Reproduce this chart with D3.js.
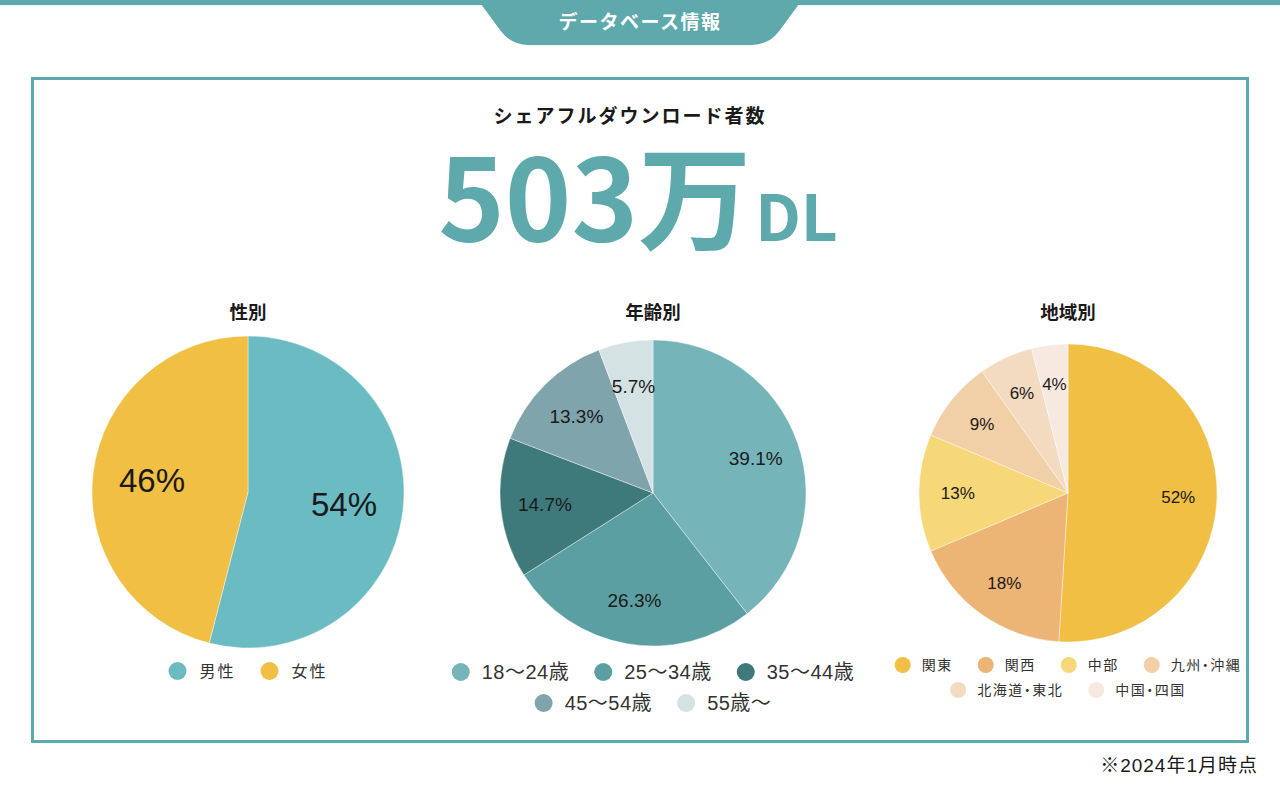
<!DOCTYPE html>
<html lang="ja">
<head>
<meta charset="utf-8">
<title>データベース情報</title>
<script src="https://cdn.jsdelivr.net/npm/d3@7"></script>
<style>
  html, body { margin: 0; padding: 0; background: #fff; }
  svg { display: block; }
  .jp { font-family: "Noto Sans CJK JP", "Noto Sans", sans-serif; }
  .num { font-family: "Liberation Sans", Arial, "Noto Sans CJK JP", sans-serif; }
  .palt { font-feature-settings: "palt"; }
</style>
</head>
<body>
<svg id="chart" width="1280" height="786"></svg>
<script>
// data
const genderLabels = ["男性", "女性"];
const genderValues = [54, 46];

const ageLabels = ["18〜24歳", "25〜34歳", "35〜44歳", "45〜54歳", "55歳〜"];
const ageValues = [39.1, 26.3, 14.7, 13.3, 5.7];

const regionLabels = ["関東", "関西", "中部", "九州・沖縄", "北海道・東北", "中国・四国"];
const regionValues = [52, 18, 13, 9, 6, 4];

const teal = "#5ea9ab";

const svg = d3.select("#chart");

// top bar + tab
svg.append("rect").attr("x", 0).attr("y", 0).attr("width", 1280).attr("height", 5).attr("fill", teal);
svg.append("path")
  .attr("d", "M478,0 L802,0 L780,30 Q769,45 752,45 L528,45 Q511,45 500,30 Z")
  .attr("fill", teal);
svg.append("text")
  .attr("class", "jp")
  .attr("x", 640).attr("y", 29)
  .attr("text-anchor", "middle")
  .attr("fill", "#fff")
  .attr("font-size", 19)
  .attr("font-weight", 700)
  .attr("letter-spacing", 1.5)
  .text("データベース情報");

// frame
svg.append("rect")
  .attr("x", 32.5).attr("y", 78.5)
  .attr("width", 1215).attr("height", 663)
  .attr("fill", "none")
  .attr("stroke", teal)
  .attr("stroke-width", 3);

// headline
svg.append("text")
  .attr("class", "jp")
  .attr("x", 630).attr("y", 123)
  .attr("text-anchor", "middle")
  .attr("fill", "#1a1a1a")
  .attr("font-size", 19)
  .attr("font-weight", 700)
  .attr("letter-spacing", 2)
  .text("シェアフルダウンロード者数");

const big = svg.append("text")
  .attr("class", "jp")
  .attr("x", 638).attr("y", 241)
  .attr("text-anchor", "middle")
  .attr("fill", teal);
big.append("tspan").attr("font-size", 113).attr("font-weight", 700).text("503万");
big.append("tspan").attr("font-size", 64).attr("font-weight", 700).attr("dx", 4).text("DL");

// pies
const charts = [
  { title: "性別", labels: genderLabels, values: genderValues,
    colors: ["#6bbbc3", "#f0bf43"],
    cx: 248, cy: 492, r: 156, labelR: 0.62, labelSize: 33,
    legendY: 671, legendSize: 16, legendSpacing: 2, legendClass: "jp", dotR: 9, textGap: 13, rows: [2] },
  { title: "年齢別", labels: ageLabels, values: ageValues,
    colors: ["#75b5b9", "#5c9fa2", "#3e797b", "#7fa4ab", "#d4e2e4"],
    cx: 653, cy: 493, r: 153, labelR: 0.71, labelSize: 19,
    legendY: 672, legendSize: 20, legendSpacing: 0.5, legendClass: "num", dotR: 9, textGap: 12, rows: [3, 2], rowGap: 31 },
  { title: "地域別", labels: regionLabels, values: regionValues,
    colors: ["#f0bf43", "#ecb475", "#f7d878", "#f1cfa7", "#f3dbc0", "#f6eae0"],
    cx: 1068, cy: 493, r: 149, labelR: 0.74, labelSize: 17,
    legendY: 665, legendSize: 14, legendSpacing: 1.5, legendClass: "jp palt", dotR: 8, textGap: 11, rows: [4, 2], rowGap: 25 }
];

charts.forEach(c => {
  const color = d3.scaleOrdinal().domain(c.labels).range(c.colors);
  const pie = d3.pie().sort(null).value(d => d.value);
  const data = c.labels.map((l, i) => ({ label: l, value: c.values[i] }));
  const arcs = pie(data);
  const arc = d3.arc().innerRadius(0).outerRadius(c.r);
  const labelArc = d3.arc().innerRadius(c.r * c.labelR).outerRadius(c.r * c.labelR);

  svg.append("text")
    .attr("class", "jp")
    .attr("x", c.cx).attr("y", 319)
    .attr("text-anchor", "middle")
    .attr("fill", "#1a1a1a")
    .attr("font-size", 18.5)
    .attr("font-weight", 700)
    .text(c.title);

  const g = svg.append("g").attr("transform", `translate(${c.cx},${c.cy})`);

  g.selectAll("path")
    .data(arcs)
    .join("path")
    .attr("d", arc)
    .attr("fill", d => color(d.data.label))
    .attr("stroke", "#fff")
    .attr("stroke-width", 0.4);

  g.selectAll("text")
    .data(arcs)
    .join("text")
    .attr("class", "num")
    .attr("transform", d => `translate(${labelArc.centroid(d)})`)
    .attr("text-anchor", "middle")
    .attr("dy", "0.36em")
    .attr("font-size", c.labelSize)
    .attr("fill", "#1a1a1a")
    .text(d => d.data.value + "%");

  // legend, centred rows
  let idx = 0;
  c.rows.forEach((n, ri) => {
    const items = data.slice(idx, idx + n);
    idx += n;
    const y = c.legendY + ri * (c.rowGap || 0);
    const row = svg.append("g");
    const between = 25;
    let x = 0;
    items.forEach(it => {
      const item = row.append("g").attr("transform", `translate(${x},0)`);
      item.append("circle")
        .attr("cx", c.dotR).attr("cy", y)
        .attr("r", c.dotR)
        .attr("fill", color(it.label));
      const t = item.append("text")
        .attr("class", c.legendClass)
        .attr("x", c.dotR * 2 + c.textGap).attr("y", y)
        .attr("dy", "0.35em")
        .attr("font-size", c.legendSize)
        .attr("letter-spacing", c.legendSpacing)
        .attr("fill", "#333")
        .text(it.label);
      const w = t.node().getComputedTextLength();
      x += c.dotR * 2 + c.textGap + w + between;
    });
    const total = x - between;
    row.attr("transform", `translate(${c.cx - total / 2},0)`);
  });
});

// footnote
svg.append("text")
  .attr("class", "num")
  .attr("x", 1258).attr("y", 772)
  .attr("text-anchor", "end")
  .attr("fill", "#1a1a1a")
  .attr("font-size", 19)
  .attr("letter-spacing", 1)
  .text("※2024年1月時点");
</script>
</body>
</html>
